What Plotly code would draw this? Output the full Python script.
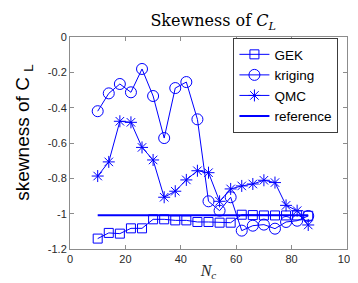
import plotly.graph_objects as go

nc = [10, 14, 18, 22, 26, 30, 34, 38, 42, 46, 50, 54, 58, 62, 66, 70, 74, 78, 82, 86]
gek = [-1.141, -1.109, -1.113, -1.083, -1.083, -1.032, -1.032, -1.038, -1.038, -1.047,
       -1.047, -1.051, -1.051, -1.006, -1.008, -1.010, -1.010, -1.010, -1.010, -1.012]
kriging = [-0.42, -0.319, -0.266, -0.313, -0.181, -0.334, -0.572, -0.289, -0.255, -0.466,
           -0.93, -0.983, -0.907, -1.096, -1.068, -1.062, -1.085, -1.047, -1.04, -1.013]
qmc = [-0.787, -0.707, -0.477, -0.483, -0.625, -0.696, -0.907, -0.873, -0.809, -0.757,
       -0.768, -0.93, -0.86, -0.843, -0.832, -0.811, -0.824, -0.953, -0.983, -1.064]
ref_x = [10, 86]
ref_y = [-1.009, -1.009]

blue = "rgb(0,0,255)"
fig = go.Figure()
fig.add_trace(go.Scatter(x=nc, y=gek, mode="lines+markers", name="GEK",
                         line=dict(color=blue, width=1),
                         marker=dict(symbol="square-open", size=9, color=blue, line=dict(width=1))))
fig.add_trace(go.Scatter(x=nc, y=kriging, mode="lines+markers", name="kriging",
                         line=dict(color=blue, width=1),
                         marker=dict(symbol="circle-open", size=11, color=blue, line=dict(width=1))))
fig.add_trace(go.Scatter(x=nc, y=qmc, mode="lines+markers", name="QMC",
                         line=dict(color=blue, width=1),
                         marker=dict(symbol="asterisk-open", size=10, color=blue, line=dict(width=1))))
fig.add_trace(go.Scatter(x=ref_x, y=ref_y, mode="lines", name="reference",
                         line=dict(color=blue, width=2)))

axis_common = dict(showline=True, linecolor="rgb(140,140,140)", linewidth=1, mirror="ticks",
                   ticks="inside", ticklen=4, tickcolor="rgb(140,140,140)", showgrid=False,
                   zeroline=False, tickfont=dict(family="Liberation Sans", size=11, color="rgb(40,40,40)"))

fig.update_layout(
    width=358, height=283,
    margin=dict(l=62, r=10, t=29, b=42),
    paper_bgcolor="white", plot_bgcolor="white",
    title=dict(text="Skewness of <i>C</i><sub><i>L</i></sub>", x=0.573, xanchor="center",
               y=0.955, yanchor="middle",
               font=dict(family="DejaVu Serif", size=16, color="black")),
    xaxis=dict(range=[0, 100], tickvals=[0, 20, 40, 60, 80, 100],
               title=dict(text="<i>N<sub>c</sub></i>", standoff=0,
                          font=dict(family="Liberation Serif", size=16, color="rgb(40,40,40)")),
               **axis_common),
    yaxis=dict(range=[-1.2, 0], tickvals=[0, -0.2, -0.4, -0.6, -0.8, -1, -1.2],
               ticktext=["0", "-0.2", "-0.4", "-0.6", "-0.8", "-1", "-1.2"],
               **axis_common),
    annotations=[dict(text="skewness of C <sub>L</sub>", textangle=-90,
                      xref="paper", yref="paper", x=-0.165, y=0.55,
                      xanchor="center", yanchor="middle", showarrow=False,
                      font=dict(family="Liberation Sans", size=19, color="black"))],
    legend=dict(x=0.59, y=0.995, xanchor="left", yanchor="top",
                bgcolor="white", bordercolor="rgb(60,60,60)", borderwidth=1,
                font=dict(family="Liberation Sans", size=13.5, color="black"),
                tracegroupgap=0, itemwidth=30),
    showlegend=True,
)
fig.write_html("out.html")
